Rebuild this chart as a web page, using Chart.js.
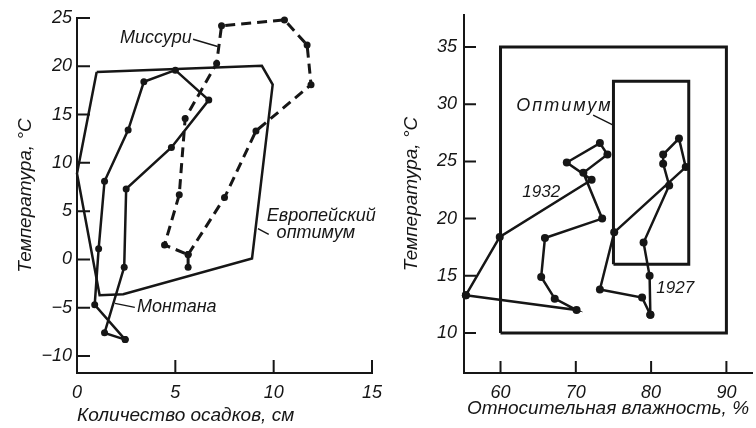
<!DOCTYPE html>
<html>
<head>
<meta charset="utf-8">
<script src="https://cdn.jsdelivr.net/npm/chart.js@4"></script>
<style>
  html, body { margin: 0; padding: 0; background: #fff; }
  #wrap { position: relative; width: 756px; height: 428px; overflow: hidden; }
  canvas { position: absolute; top: 0; }
  #left { left: 0; }
  #right { left: 378px; }
</style>
</head>
<body>
<div id="wrap">
  <canvas id="left" width="400" height="428"></canvas>
  <canvas id="right" width="378" height="428"></canvas>
</div>
<script>
// левый график: осадки (см) / температура (°С), по месяцам
const montanaRain = [2.45, 0.9, 1.1, 1.4, 2.6, 3.4, 5.0, 6.7, 4.8, 2.5, 2.4, 1.4, 2.45]
const montanaTemp = [-8.3, -4.7, 1.1, 8.1, 13.4, 18.4, 19.6, 16.5, 11.6, 7.3, -0.8, -7.6, -8.3]
const missouriRain = [5.65, 5.65, 4.45, 5.2, 5.5, 7.1, 7.35, 10.55, 11.7, 11.9, 9.1, 7.5, 5.65]
const missouriTemp = [-0.8, 0.5, 1.5, 6.7, 14.6, 20.3, 24.2, 24.8, 22.2, 18.1, 13.3, 6.4, 0.5]
const europeRain = [1.0, 9.4, 9.95, 8.9, 2.35, 1.15, 0, 1.0]
const europeTemp = [19.4, 20.05, 18.1, 0.1, -3.6, -3.7, 8.9, 19.4]
const rainTicks = [0, 5, 10, 15]
const tempTicksL = [-10, -5, 0, 5, 10, 15, 20, 25]

// правый график: относительная влажность (%) / температура (°С)
const hum1932 = [55.4, 59.9, 72.1, 68.8, 73.2, 74.2, 71.0, 73.5, 65.9, 65.4, 67.2, 70.1, 55.4]
const temp1932 = [13.3, 18.4, 23.4, 24.9, 26.6, 25.6, 24.0, 20.0, 18.3, 14.9, 13.0, 12.0, 13.3]
const hum1927 = [79.9, 79.8, 79.0, 82.4, 81.6, 81.6, 83.7, 84.6, 75.1, 73.2, 78.8, 79.9]
const temp1927 = [11.6, 15.0, 17.9, 22.9, 24.8, 25.6, 27.0, 24.5, 18.8, 13.8, 13.1, 11.6]
const outerHum = [60, 90, 90, 60, 60]
const outerTemp = [10, 10, 35, 35, 10]
const optHum = [75, 85, 85, 75, 75]
const optTemp = [16, 16, 32, 32, 16]
const humTicks = [60, 70, 80, 90]
const tempTicksR = [10, 15, 20, 25, 30, 35]

const ink = '#161616'
const fam = "'Liberation Sans', Arial, sans-serif"

Chart.defaults.font.family = fam
Chart.defaults.font.style = 'italic'
Chart.defaults.color = ink

function pts(xs, ys) {
    let res = []
    for (let i = 0; i < xs.length; i++) {
        res.push({x: xs[i], y: ys[i]})
    }
    return res
}

function series(xs, ys, opts) {
    return Object.assign({
        data: pts(xs, ys),
        showLine: true,
        borderColor: ink,
        backgroundColor: ink,
        borderWidth: 2.5,
        pointRadius: 3.5,
        pointBorderWidth: 0,
        pointBackgroundColor: ink,
        clip: false
    }, opts)
}

// засечки внутрь графика, подписи и выноски
const marksPlugin = {
    id: 'marks',
    afterDatasetsDraw(chart, args, opts) {
        const ctx = chart.ctx
        const a = chart.chartArea
        const x = chart.scales.x
        const y = chart.scales.y
        ctx.save()
        ctx.strokeStyle = ink
        ctx.lineWidth = 2
        ctx.beginPath()
        x.ticks.forEach(t => {
            const px = x.getPixelForValue(t.value)
            if (px > a.left + 2) {
                ctx.moveTo(px, a.bottom)
                ctx.lineTo(px, a.bottom - opts.tick)
            }
        })
        y.ticks.forEach(t => {
            const py = y.getPixelForValue(t.value)
            ctx.moveTo(a.left, py)
            ctx.lineTo(a.left + opts.tick, py)
        })
        ctx.stroke()

        ctx.lineWidth = 1.4
        ctx.beginPath()
        opts.leaders.forEach(l => {
            ctx.moveTo(x.getPixelForValue(l[0]), y.getPixelForValue(l[1]))
            ctx.lineTo(x.getPixelForValue(l[2]), y.getPixelForValue(l[3]))
        })
        ctx.stroke()

        ctx.fillStyle = ink
        ctx.textBaseline = 'middle'
        opts.notes.forEach(n => {
            ctx.font = 'italic ' + n.size + 'px ' + fam
            ctx.textAlign = n.align
            ctx.letterSpacing = (n.spacing || 0) + 'px'
            ctx.fillText(n.text, x.getPixelForValue(n.x), y.getPixelForValue(n.y))
        })
        ctx.letterSpacing = '0px'
        ctx.restore()
    }
}

function axis(min, max, step, title, size, titlePad, labelPad, align) {
    return {
        type: 'linear',
        min: min,
        max: max,
        grid: {display: false, drawTicks: false},
        border: {display: true, color: ink, width: 2},
        ticks: {
            stepSize: step,
            includeBounds: false,
            padding: labelPad,
            font: {size: 18, style: 'italic'},
            color: ink,
            callback: v => String(v).replace('-', '\u2212')
        },
        title: {display: true, text: title, align: align, padding: titlePad, font: {size: 19, style: 'italic'}, color: ink},
        afterFit(s) {
            if (s.isHorizontal()) {
                s.height = size
            } else {
                s.width = size
            }
            s.paddingLeft = 0
            s.paddingRight = 0
            s.paddingTop = 0
            s.paddingBottom = 0
        }
    }
}

new Chart(document.getElementById('left'), {
    type: 'scatter',
    data: {
        datasets: [
            series(europeRain, europeTemp, {label: 'Европейский оптимум', pointRadius: 0}),
            series(montanaRain, montanaTemp, {label: 'Монтана'}),
            series(missouriRain, missouriTemp, {label: 'Миссури', borderDash: [10, 6], borderWidth: 3})
        ]
    },
    options: {
        responsive: false,
        animation: false,
        events: [],
        layout: {padding: {left: 0, right: 28, top: 18, bottom: 0}},
        scales: {
            x: axis(rainTicks[0], rainTicks[rainTicks.length - 1], 5, 'Количество осадков, см', 55, {top: 0, bottom: 1}, 9, 'start'),
            y: axis(-11.76, tempTicksL[tempTicksL.length - 1], 5, 'Температура, °С', 77, {top: 14, bottom: 0}, 5, 'center')
        },
        plugins: {
            legend: {display: false},
            tooltip: {enabled: false},
            marks: {
                tick: 13,
                leaders: [[5.9, 22.8, 7.15, 22.05], [9.2, 3.2, 9.75, 2.6], [1.93, -4.55, 2.94, -4.97]],
                notes: [
                    {text: 'Миссури', x: 5.84, y: 22.9, align: 'right', size: 18},
                    {text: 'Европейский', x: 9.65, y: 4.45, align: 'left', size: 18},
                    {text: 'оптимум', x: 10.15, y: 2.7, align: 'left', size: 18},
                    {text: 'Монтана', x: 3.05, y: -4.9, align: 'left', size: 18}
                ]
            }
        }
    },
    plugins: [marksPlugin]
})

new Chart(document.getElementById('right'), {
    type: 'scatter',
    data: {
        datasets: [
            series(outerHum, outerTemp, {label: 'Границы', pointRadius: 0, borderWidth: 3}),
            series(optHum, optTemp, {label: 'Оптимум', pointRadius: 0, borderWidth: 3}),
            series(hum1932, temp1932, {label: '1932', pointRadius: 4}),
            series(hum1927, temp1927, {label: '1927', pointRadius: 4})
        ]
    },
    options: {
        responsive: false,
        animation: false,
        events: [],
        layout: {padding: {left: 0, right: 0, top: 15, bottom: 0}},
        scales: {
            x: axis(55.15, 93.4, 10, 'Относительная влажность, %', 55, {top: 0, bottom: 8}, 9, 'center'),
            y: axis(6.5, 37.8, 5, 'Температура, °С', 86, {top: 22, bottom: 0}, 7, 'center')
        },
        plugins: {
            legend: {display: false},
            tooltip: {enabled: false},
            marks: {
                tick: 12,
                leaders: [[72.3, 29.05, 74.9, 28.2]],
                notes: [
                    {text: 'Оптимум', x: 68.5, y: 29.85, align: 'center', size: 18, spacing: 2},
                    {text: '1932', x: 65.4, y: 22.3, align: 'center', size: 17},
                    {text: '1927', x: 83.2, y: 13.9, align: 'center', size: 17}
                ]
            }
        }
    },
    plugins: [marksPlugin]
})
</script>
</body>
</html>
